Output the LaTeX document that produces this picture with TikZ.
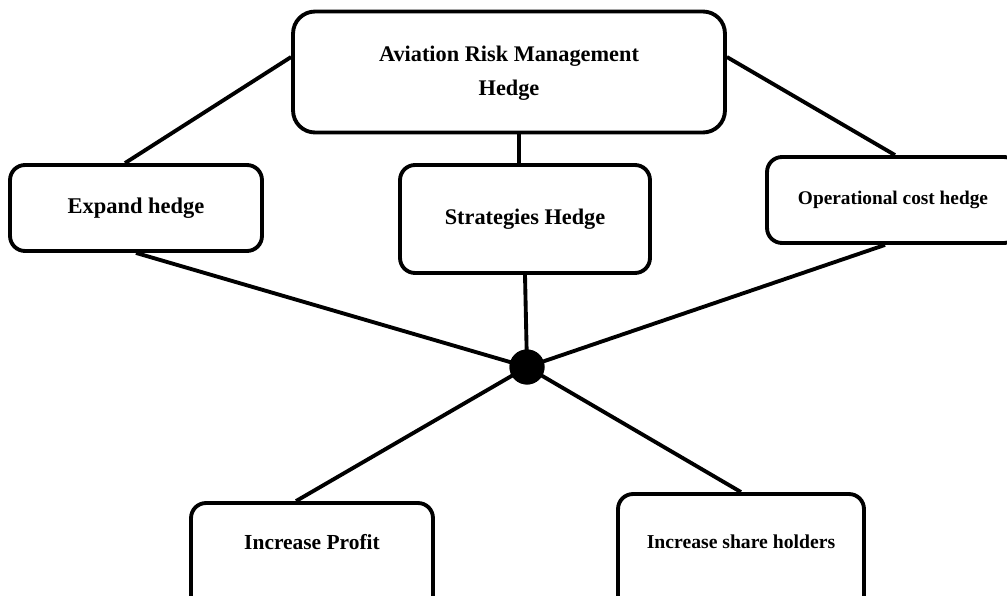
\documentclass[tikz,border=0pt]{standalone}
\usepackage{fontspec}
\setmainfont{Liberation Serif}
\usetikzlibrary{positioning}

\begin{document}
\begin{tikzpicture}
    [
        x=0.02cm, y=-0.02cm,
        main_box/.style={rectangle, rounded corners=0.44cm, draw=black, line width=2.2pt, fill=white, align=center, minimum width=8.64cm, minimum height=2.42cm, text depth=0.06cm, font=\bfseries\fontsize{12.7}{19.3}\selectfont},
        hedge_box/.style={rectangle, rounded corners=0.3cm, draw=black, line width=2.2pt, fill=white, align=center, minimum height=1.72cm},
        low_box/.style={rectangle, rounded corners=0.3cm, draw=black, line width=2.2pt, fill=white, anchor=base, text height=0.62cm, text depth=1.6cm, inner ysep=0.3cm},
        hub_node/.style={circle, fill=black, minimum size=0.7cm, inner sep=0pt},
        link/.style={line width=2.2pt, color=black},
    ]
        \useasboundingbox (0,0) rectangle (1007,595) ;
        \clip (0,0) rectangle (1007,595) ;
        \node[main_box] (arm) at (509,72) {Aviation Risk Management\\Hedge} ;
        \node[hedge_box, minimum width=5.04cm, font=\bfseries\fontsize{12.8}{15}\selectfont] (expand) at (136,208) {Expand hedge} ;
        \node[hedge_box, minimum width=5cm, minimum height=2.16cm, font=\bfseries\fontsize{12.7}{15}\selectfont] (strat) at (525,219) {Strategies Hedge} ;
        \node[hedge_box, minimum width=5.04cm, font=\bfseries\fontsize{11}{13}\selectfont] (opcost) at (893,200) {Operational cost hedge} ;
        \node[hub_node] (hub) at (527,367) {} ;
        \node[low_box, minimum width=4.84cm, font=\bfseries\fontsize{12.2}{14}\selectfont] (profit) at (312,549) {Increase Profit} ;
        \node[low_box, minimum width=4.92cm, text height=0.78cm, font=\bfseries\fontsize{11.2}{13}\selectfont] (share) at (741,548) {Increase share holders} ;
        % upper links
        \draw[link] ([yshift=0.3cm]arm.west) to ([xshift=-0.22cm]expand.north) ;
        \draw[link] ([yshift=0.3cm]arm.east) to ([xshift=0.04cm]opcost.north) ;
        \draw[link] ([xshift=-0.12cm]strat.north) to ([xshift=-0.12cm]strat.north |- arm.south) ;
        % links through the hub
        \draw[link] (expand.south) to (hub.center) ;
        \draw[link] ([xshift=-0.16cm]opcost.south) to (hub.center) ;
        \draw[link] (strat.south) to (hub.center) ;
        \draw[link] (hub.center) to ([xshift=-0.32cm]profit.north) ;
        \draw[link] (hub.center) to (share.north) ;
        \node[hub_node] at (hub) {} ;
\end{tikzpicture}
\end{document}
